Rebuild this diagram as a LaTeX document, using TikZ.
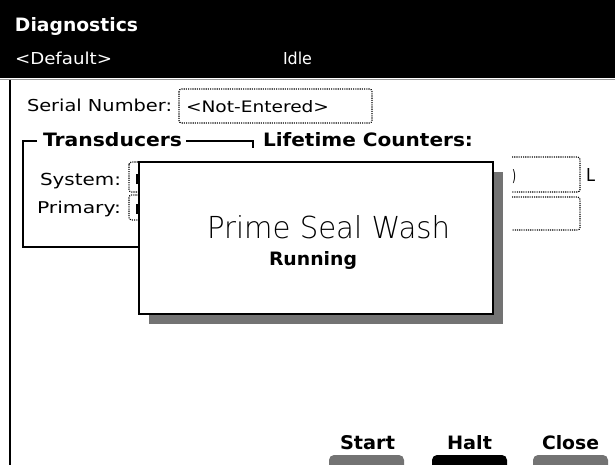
\documentclass[tikz,border=0pt]{standalone}
\usepackage{fontspec}
\setmainfont{DejaVu Sans}
\newfontfamily\lightfont{DejaVu Sans ExtraLight}
\usepackage{graphicx}

% text box squeezed to an exact width and height (in pt)
\newcommand{\fitbox}[3]{\resizebox{#1pt}{#2pt}{#3}}

\begin{document}
\begin{tikzpicture}[x=1pt,y=-1pt,
  lbl/.style={inner sep=0pt, outer sep=0pt, anchor=base west},
  dotbox/.style={draw=black, line width=1.1pt, dash pattern=on 1.1pt off 1.1pt, rounded corners=2.5pt},
  frameline/.style={draw=black, line width=1.5pt},
  dropshadow/.style={fill=black!55},
  btnbar/.style={rounded corners=5pt}]
\useasboundingbox (0,0) rectangle (615,465);

% title bar
\fill[black] (0,0) rectangle (615,78);
\draw[black!40, line width=1.5pt] (0,79.5) -- (615,79.5);
\draw[line width=2pt] (10,80) -- (10,466);

\node[lbl, text=white] (title) at (15,32) {\fitbox{123}{14}{\bfseries Diagnostics}};
\node[lbl, text=white] (method) at (15,64.5) {\fitbox{97}{12.5}{<Default>}};
\node[lbl, text=white] (status) at (283,64.5) {\fitbox{29}{12.5}{Idle}};

% serial number field
\node[lbl] (snlbl) at (27,111.5) {\fitbox{145}{12.5}{Serial Number:}};
\draw[dotbox] (179,89) rectangle (372,123);
\node[lbl] (snval) at (186,112.5) {\fitbox{143}{12}{<Not-Entered>}};

% transducers group box
\draw[frameline] (37,141) -- (23,141) -- (23,247) -- (139,247);
\draw[frameline] (186,141) -- (253,141) -- (253,148);
\node[lbl] (trans) at (43,147) {\fitbox{139}{14}{\bfseries Transducers}};
\node[lbl] (life) at (263,147) {\fitbox{210}{14}{\bfseries Lifetime Counters:}};

\node[lbl] (sys) at (40,185) {\fitbox{81}{12.3}{System:}};
\node[lbl] (pri) at (37,213) {\fitbox{84}{12.3}{Primary:}};
\draw[dotbox] (129,162) rectangle (300,192);
\draw[dotbox] (129,195) rectangle (300,220);
\fill (136,174) rectangle (139,184);
\fill (136,204) rectangle (139,214);

% counter fields
\draw[dotbox] (512,157) -- (580,157) -- (580,192) -- (512,192);
\draw[dotbox] (512,197) -- (580,197) -- (580,230) -- (512,230);
\node[lbl] (cnt) at (512,182) {\fitbox{4}{12}{)}};
\node[lbl] (unit) at (586,182) {\fitbox{9}{13}{L}};

% progress dialog
\fill[dropshadow] (149,172) rectangle (503,324);
\draw[line width=2pt, fill=white] (139,162) rectangle (493,314);
\node[lbl] (task) at (207,238) {\fitbox{243}{23}{\lightfont Prime Seal Wash}};
\node[lbl] (state) at (269,265) {\fitbox{88}{14}{\bfseries Running}};

% soft keys
\node[lbl] (start) at (340,449) {\fitbox{55}{14}{\bfseries Start}};
\node[lbl] (halt) at (447,449) {\fitbox{45}{14}{\bfseries Halt}};
\node[lbl] (close) at (542,449) {\fitbox{57}{14}{\bfseries Close}};
\fill[dropshadow, btnbar] (329,455) rectangle (404,476);
\fill[black, btnbar] (432,455) rectangle (507,476);
\fill[dropshadow, btnbar] (533,455) rectangle (608,476);
\end{tikzpicture}
\end{document}
